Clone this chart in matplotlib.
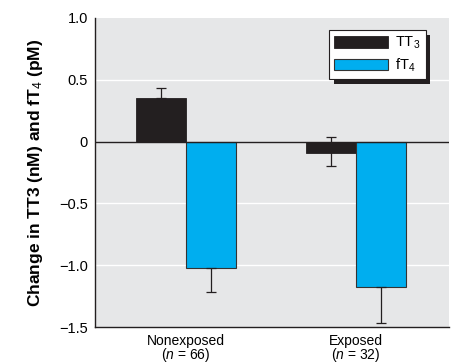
import numpy as np
import matplotlib.pyplot as plt
from matplotlib.patches import Rectangle

# Daten
groups = ['Nonexposed\n($\\it{n}$ = 66)', 'Exposed\n($\\it{n}$ = 32)']
tt3_values = [0.35, -0.09]
ft4_values = [-1.02, -1.18]
tt3_err_low = [0.0, 0.11]
tt3_err_high = [0.08, 0.13]
ft4_err_low = [0.20, 0.29]
ft4_err_high = [0.0, 0.0]
y_ticks = [1.0, 0.5, 0, -0.5, -1.0, -1.5]
y_tick_labels = ['1.0', '0.5', '0', '\u22120.5', '\u22121.0', '\u22121.5']

plt.rcParams['font.family'] = ['Liberation Sans', 'DejaVu Sans']
plt.rcParams['mathtext.fontset'] = 'custom'
plt.rcParams['mathtext.rm'] = 'Liberation Sans'
plt.rcParams['mathtext.it'] = 'Liberation Sans:italic'
plt.rcParams['mathtext.bf'] = 'Liberation Sans:bold'

fig = plt.figure(figsize=(4.55, 3.64), dpi=100)
ax = fig.add_axes([0.2088, 0.1016, 0.778, 0.849])
ax.set_facecolor('#e6e7e8')

x = np.arange(len(groups))
w = 0.294

for yv in [0.5, -0.5, -1.0]:
    ax.axhline(yv, color='white', lw=1.0, zorder=1)
ax.axhline(0, color='#231f20', lw=1.0, zorder=3)

ax.bar(x - w / 2, tt3_values, w, color='#231f20', edgecolor='#231f20', lw=0.6,
       label='TT$_3$', zorder=2)
ax.bar(x + w / 2, ft4_values, w, color='#00aeef', edgecolor='#333333', lw=0.8,
       label='fT$_4$', zorder=2)
ax.errorbar(x - w / 2, tt3_values, yerr=[tt3_err_low, tt3_err_high], fmt='none',
            ecolor='#231f20', elinewidth=0.9, capsize=3.5, capthick=0.9, zorder=4)
ax.errorbar(x + w / 2, ft4_values, yerr=[ft4_err_low, ft4_err_high], fmt='none',
            ecolor='#231f20', elinewidth=0.9, capsize=3.5, capthick=0.9, zorder=4)

ax.set_xlim(-0.535, 1.547)
ax.set_ylim(-1.5, 1.0)
ax.set_xticks(x)
ax.set_xticklabels(groups, fontsize=10, linespacing=0.85)
ax.set_yticks(y_ticks)
ax.set_yticklabels(y_tick_labels, fontsize=10.5)
ax.tick_params(length=0, pad=5)
ax.tick_params(axis='x', pad=5)
for s in ['top', 'right']:
    ax.spines[s].set_visible(False)
for s in ['left', 'bottom']:
    ax.spines[s].set_color('#231f20')
    ax.spines[s].set_linewidth(1.0)

ax.set_ylabel('Change in TT3 (nM) and fT$_4$ (pM)', fontsize=12.5, fontweight='bold',
              labelpad=10)

leg = ax.legend(loc='upper right', bbox_to_anchor=(0.955, 0.985), fontsize=10.5,
                frameon=True, fancybox=False, shadow=False, handlelength=3.7,
                handleheight=0.8, borderpad=0.35, labelspacing=0.35, handletextpad=0.5)
leg.get_frame().set_edgecolor('#231f20')
leg.get_frame().set_linewidth(0.8)
leg.get_frame().set_facecolor('white')
leg.get_frame().set_alpha(1)
leg.set_zorder(6)

# Schatten der Legende
fig.canvas.draw()
bb = leg.get_window_extent().transformed(ax.transAxes.inverted())
shadow = Rectangle((bb.x0 + 0.013, bb.y0 - 0.016), bb.width, bb.height,
                   transform=ax.transAxes, facecolor='#231f20', edgecolor='none', zorder=5)
ax.add_patch(shadow)

plt.savefig('out.png', dpi=100)
